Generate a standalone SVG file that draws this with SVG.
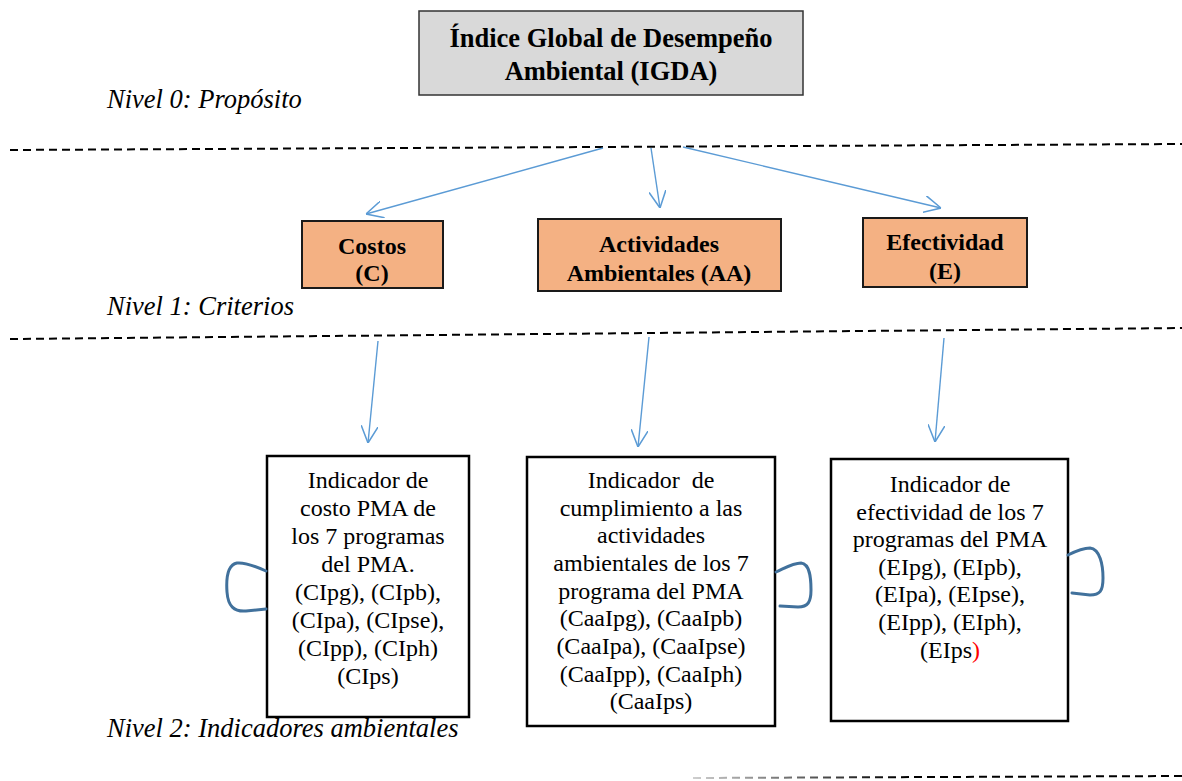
<svg xmlns="http://www.w3.org/2000/svg" width="1182" height="781" viewBox="0 0 1182 781">
<style>
  .bold { font-family: "Liberation Serif", "Times New Roman", serif; font-weight: bold; fill: #000; text-anchor: middle; }
  .reg { font-family: "Liberation Serif", "Times New Roman", serif; font-size: 24px; fill: #000; text-anchor: middle; }
  .lvl { font-family: "Liberation Serif", "Times New Roman", serif; font-style: italic; font-size: 26.5px; fill: #000; }
  .dash { stroke: #000; stroke-width: 2; stroke-dasharray: 8 5; fill: none; }
  .crit { fill: #f4b183; stroke: #1a1a1a; stroke-width: 2; }
  .ind { fill: #fff; stroke: #000; stroke-width: 2.5; }
  .arrow { stroke: #5b9bd5; stroke-width: 1.4; fill: none; marker-end: url(#ah); }
  .loop { stroke: #41719c; stroke-width: 3; fill: none; stroke-linecap: round; }
</style>
<defs>
  <marker id="ah" viewBox="0 0 10 10" refX="10" refY="5" markerWidth="17" markerHeight="17" markerUnits="userSpaceOnUse" orient="auto">
    <path d="M0,0 L10,5 L0,10" fill="none" stroke="#5b9bd5" stroke-width="0.9"/>
  </marker>
  <linearGradient id="fade" gradientUnits="userSpaceOnUse" x1="693" y1="0" x2="900" y2="0">
    <stop offset="0" stop-color="#cfcfcf"/>
    <stop offset="1" stop-color="#000"/>
  </linearGradient>
</defs>

<g id="separators">
  <line class="dash" x1="10" y1="150" x2="1182" y2="144"/>
  <line class="dash" x1="10" y1="339" x2="1182" y2="328"/>
  <line class="dash" x1="693" y1="778" x2="1182" y2="776" style="stroke:url(#fade)"/>
</g>

<g id="level-labels">
  <text class="lvl" x="107" y="108">Nivel 0: Propósito</text>
  <text class="lvl" x="107" y="315">Nivel 1: Criterios</text>
  <text class="lvl" x="107" y="737">Nivel 2: Indicadores ambientales</text>
</g>

<g id="igda">
  <rect x="419" y="11" width="384" height="84" fill="#d9d9d9" stroke="#333" stroke-width="1.5"/>
  <text class="bold" font-size="26.5" x="611" y="47">Índice Global de Desempeño</text>
  <text class="bold" font-size="26.5" x="611" y="80">Ambiental (IGDA)</text>
</g>

<g id="costos">
  <rect class="crit" x="302" y="221" width="141" height="67"/>
  <text class="bold" font-size="24" x="372" y="254">Costos</text>
  <text class="bold" font-size="24" x="372" y="281">(C)</text>
</g>

<g id="actividades">
  <rect class="crit" x="538" y="219" width="243" height="72"/>
  <text class="bold" font-size="24" x="659" y="252">Actividades</text>
  <text class="bold" font-size="24" x="659" y="281">Ambientales (AA)</text>
</g>

<g id="efectividad">
  <rect class="crit" x="863" y="218" width="164" height="69"/>
  <text class="bold" font-size="24" x="945" y="250">Efectividad</text>
  <text class="bold" font-size="24" x="945" y="279">(E)</text>
</g>

<g id="ind-costo">
  <rect class="ind" x="267" y="456" width="202" height="261"/>
  <text class="reg" x="368" y="488">Indicador de</text>
  <text class="reg" x="368" y="516">costo PMA de</text>
  <text class="reg" x="368" y="544">los 7 programas</text>
  <text class="reg" x="368" y="572">del PMA.</text>
  <text class="reg" x="368" y="600">(CIpg), (CIpb),</text>
  <text class="reg" x="368" y="628">(CIpa), (CIpse),</text>
  <text class="reg" x="368" y="656">(CIpp), (CIph)</text>
  <text class="reg" x="368" y="684">(CIps)</text>
</g>

<g id="ind-actividades">
  <rect class="ind" x="527" y="457" width="248" height="269"/>
  <text class="reg" x="651" y="488">Indicador&#160; de</text>
  <text class="reg" x="651" y="516">cumplimiento a las</text>
  <text class="reg" x="651" y="543">actividades</text>
  <text class="reg" x="651" y="571">ambientales de los 7</text>
  <text class="reg" x="651" y="599">programa del PMA</text>
  <text class="reg" x="651" y="626">(CaaIpg), (CaaIpb)</text>
  <text class="reg" x="651" y="654">(CaaIpa), (CaaIpse)</text>
  <text class="reg" x="651" y="682">(CaaIpp), (CaaIph)</text>
  <text class="reg" x="651" y="709">(CaaIps)</text>
</g>

<g id="ind-efectividad">
  <rect class="ind" x="831" y="459" width="237" height="262"/>
  <text class="reg" x="950" y="492">Indicador de</text>
  <text class="reg" x="950" y="520">efectividad de los 7</text>
  <text class="reg" x="950" y="547">programas del PMA</text>
  <text class="reg" x="950" y="575">(EIpg), (EIpb),</text>
  <text class="reg" x="950" y="602">(EIpa), (EIpse),</text>
  <text class="reg" x="950" y="630">(EIpp), (EIph),</text>
  <text class="reg" x="950" y="658">(EIps<tspan fill="#ff0000">)</tspan></text>
</g>

<g id="connectors">
  <line class="arrow" x1="603" y1="148" x2="366" y2="214"/>
  <line class="arrow" x1="651" y1="148" x2="660" y2="208"/>
  <line class="arrow" x1="683" y1="147" x2="941" y2="208"/>
  <line class="arrow" x1="378" y1="341" x2="368" y2="443"/>
  <line class="arrow" x1="649" y1="337" x2="638" y2="447"/>
  <line class="arrow" x1="944" y1="338" x2="935" y2="442"/>
  <path class="loop" d="M266,571 C255,566 245,562 237,563 C227,565 226,578 227,592 C228,606 234,612 246,611 L266,609"/>
  <path class="loop" d="M776,572 C785,568 793,563 801,563 C810,564 811,578 811,590 C811,602 808,607 798,607 L780,606"/>
  <path class="loop" d="M1068,555 C1076,551 1083,548 1090,548 C1100,549 1103,565 1103,578 C1103,591 1100,595 1090,595 L1072,593"/>
</g>
</svg>
